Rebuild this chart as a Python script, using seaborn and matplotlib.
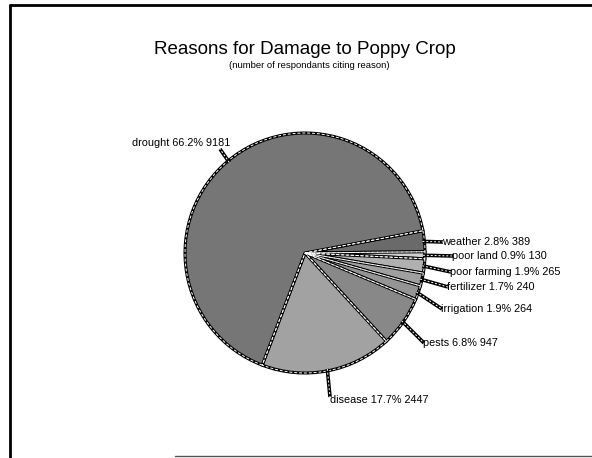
import numpy as np
import matplotlib
matplotlib.use("Agg")
import matplotlib.pyplot as plt
import seaborn as sns

# slices, clockwise from the top edge of "weather"
reasons = ['weather', 'poor land', 'poor farming', 'fertilizer',
           'irrigation', 'pests', 'disease', 'drought']
counts = [389, 130, 265, 240, 264, 947, 2447, 9181]
percents = [2.8, 0.9, 1.9, 1.7, 1.9, 6.8, 17.7, 66.2]
greys = ['#6a6a6a', '#d0d0d0', '#b0b0b0', '#a0a0a0',
         '#949494', '#888888', '#a2a2a2', '#767676']

# label text anchors (pixels from top-left), alignment and leader ends
label_pos = [(442, 242), (452, 256), (450, 272), (447, 287),
             (441, 309), (423, 343), (330, 400), (230, 143)]
label_ha = ['left'] * 7 + ['right']
leader_end = [(443, 242), (453, 256), (451, 272), (448, 287),
              (442, 309), (424, 343), (330, 397), (220, 149)]

sns.set_theme(style='white')
plt.rcParams['font.family'] = ['Liberation Sans', 'DejaVu Sans']

W, H = 592, 458
fig = plt.figure(figsize=(W / 100, H / 100), dpi=100)
ax = fig.add_axes([0, 0, 1, 1])
ax.axis('off')

cx, cy, r = 305, 253, 120
start = 10.7
pal = sns.color_palette(greys)

wedges, _ = ax.pie(counts, colors=pal, startangle=start, counterclock=False,
                   center=(cx, -cy), radius=r,
                   wedgeprops=dict(edgecolor='black', linewidth=2.2))
# pie is drawn in y-up space; flip it into the pixel frame
for w in wedges:
    w.set_center((cx, cy))
    t1, t2 = w.theta1, w.theta2
    w.set_theta1(-t2)
    w.set_theta2(-t1)
ax.set_xlim(0, W)
ax.set_ylim(H, 0)
ax.set_aspect('equal')

# white dashed highlight along the slice borders
for w in wedges:
    ax.add_patch(matplotlib.patches.Wedge((cx, cy), r, w.theta1, w.theta2,
                                          facecolor='none', edgecolor='white',
                                          linewidth=0.7, linestyle=(0, (3, 2))))

# leader lines and labels
total = sum(counts)
ang = start
for name, n, p, (tx, ty), ha, (lx, ly) in zip(reasons, counts, percents,
                                              label_pos, label_ha, leader_end):
    span = 360 * n / total
    mid = np.deg2rad(ang - span / 2)
    ang -= span
    ex, ey = cx + (r - 2) * np.cos(mid), cy - (r - 2) * np.sin(mid)
    ax.plot([ex, lx], [ey, ly], color='black', lw=2.6, solid_capstyle='butt')
    ax.plot([ex, lx], [ey, ly], color='white', lw=0.7, ls=(0, (2, 2)))
    ax.text(tx, ty, f'{name} {p}% {n}', ha=ha, va='center',
            fontsize=7.8, color='black')

fig.text(305 / W, 1 - 50 / H, 'Reasons for Damage to Poppy Crop',
         ha='center', va='center', fontsize=13.5, color='black')
fig.text(309 / W, 1 - 65 / H, '(number of respondants citing reason)',
         ha='center', va='center', fontsize=6.8, color='black')

# scanned page frame
ax.plot([10, W], [5, 5], color='black', lw=2)
ax.plot([10, 10], [5, H], color='black', lw=2)
ax.plot([175, W], [456, 456], color='#555555', lw=1)

fig.savefig('out.png', dpi=100)
